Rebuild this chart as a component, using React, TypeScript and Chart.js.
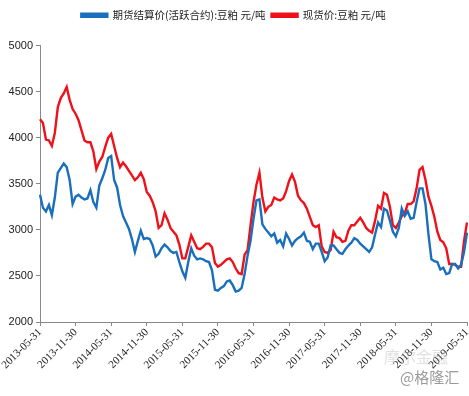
import { useEffect, useRef } from 'react';
import { Chart, registerables } from 'chart.js';

Chart.register(...registerables);

const seriesNames = ['期货结算价(活跃合约):豆粕 元/吨', '现货价:豆粕 元/吨'];

const tickLabels = [
  '2013-05-31', '2013-11-30', '2014-05-31', '2014-11-30', '2015-05-31', '2015-11-30',
  '2016-05-31', '2016-11-30', '2017-05-31', '2017-11-30', '2018-05-31', '2018-11-30', '2019-05-31',
];

const yTicks = [2000, 2500, 3000, 3500, 4000, 4500, 5000];

// Futures settlement price (blue), half-monthly readings
const futures = [
  3380, 3240, 3200, 3270, 3160, 3350, 3620, 3670, 3720, 3680, 3540, 3280,
  3360, 3380, 3350, 3330, 3340, 3430, 3300, 3240, 3480, 3560, 3650, 3780,
  3800, 3540, 3460, 3270, 3150, 3080, 3010, 2900, 2760, 2880, 2990, 2900,
  2910, 2900, 2830, 2710, 2740, 2800, 2840, 2810, 2770, 2750, 2760, 2650,
  2550, 2480, 2650, 2800, 2720, 2680, 2690, 2680, 2660, 2650, 2560, 2350,
  2340, 2370, 2390, 2440, 2450, 2400, 2330, 2340, 2370, 2520, 2720, 2880,
  3120, 3320, 3330, 3060, 3010, 2970, 2930, 2960, 2860, 2890, 2820, 2960,
  2900, 2830, 2880, 2910, 2930, 2970, 2880, 2870, 2790, 2850, 2850, 2760,
  2660, 2700, 2830, 2830, 2790, 2750, 2740, 2790, 2830, 2860, 2910, 2890,
  2850, 2820, 2790, 2760, 2810, 2950, 3080, 3030, 3230, 3210, 3100, 2980,
  2930, 3020, 3230, 3150, 3200, 3120, 3130, 3300, 3450, 3450, 3280, 2950,
  2680, 2660, 2650, 2570, 2590, 2520, 2530, 2630, 2630, 2580, 2620, 2760,
  2970,
];

// Spot price (red), half-monthly readings
const spot = [
  4200, 4160, 3980, 3970, 3910, 4050, 4330, 4430, 4480, 4550, 4410, 4310,
  4260, 4190, 4080, 3970, 3950, 3950, 3850, 3660, 3740, 3790, 3900, 4000,
  4040, 3910, 3780, 3680, 3730, 3690, 3640, 3590, 3540, 3570, 3620, 3550,
  3410, 3370, 3300, 3200, 3020, 3050, 3180, 3110, 3020, 2980, 2940, 2840,
  2690, 2690, 2815, 2940, 2870, 2800, 2790, 2815, 2850, 2850, 2810, 2640,
  2600, 2620, 2650, 2680, 2690, 2650, 2580, 2530, 2520, 2730, 2780, 3050,
  3300, 3490, 3620, 3350, 3200, 3250, 3270, 3350, 3330, 3320, 3340, 3420,
  3530, 3600, 3520, 3370, 3320, 3290, 3230, 3140, 3050, 3030, 3050, 2820,
  2760, 2750, 2780, 2980, 2920, 2910, 2870, 2880, 2990, 3050, 3050, 3090,
  3130, 3080, 3020, 2990, 2970, 3100, 3260, 3230, 3400, 3380, 3250, 3050,
  3020, 3080, 3150, 3180, 3280, 3280, 3310, 3450, 3650, 3680, 3540, 3360,
  3260, 3140, 2980, 2890, 2865, 2800, 2630, 2630, 2620, 2600, 2600, 2880,
  3080,
];

function halfMonthDates(count: number): string[] {
  const out: string[] = [];
  let y = 2013;
  let m = 5; // May
  const pad = (n: number) => (n < 10 ? '0' + n : '' + n);
  out.push(`${y}-${pad(m)}-31`);
  while (out.length < count) {
    m += 1;
    if (m > 12) { m = 1; y += 1; }
    out.push(`${y}-${pad(m)}-15`);
    if (out.length >= count) break;
    const last = new Date(y, m, 0).getDate();
    out.push(`${y}-${pad(m)}-${pad(last)}`);
  }
  return out;
}

const categories = halfMonthDates(futures.length);

const legendSpacer = {
  id: 'legendSpacer',
  beforeLayout(chart: any) {
    const lg = chart.legend;
    if (lg && !lg.__patched) {
      const orig = lg.fit;
      lg.fit = function () {
        orig.call(this);
        this.height += 15;
      };
      lg.__patched = true;
    }
  },
};

export default function App() {
  const ref = useRef<HTMLCanvasElement | null>(null);

  useEffect(() => {
    document.body.style.margin = '0';
    if (!ref.current) return;
    const tickSet = new Set(tickLabels);
    const chart = new Chart(ref.current, {
      type: 'line',
      data: {
        labels: categories,
        datasets: [
          {
            label: seriesNames[0],
            data: futures,
            borderColor: '#1a6fbd',
            backgroundColor: '#1a6fbd',
            borderWidth: 2.4,
            pointRadius: 0,
            tension: 0,
          },
          {
            label: seriesNames[1],
            data: spot,
            borderColor: '#f0101a',
            backgroundColor: '#f0101a',
            borderWidth: 2.4,
            pointRadius: 0,
            tension: 0,
          },
        ],
      },
      plugins: [legendSpacer],
      options: {
        animation: false,
        responsive: false,
        maintainAspectRatio: false,
        layout: { padding: { top: 4, right: 2, left: 0, bottom: 0 } },
        plugins: {
          legend: {
            position: 'top',
            labels: {
              boxWidth: 26,
              boxHeight: 3,
              padding: 6,
              color: '#222',
              font: { family: '"Noto Sans CJK SC", sans-serif', size: 10.5 },
            },
          },
          tooltip: { enabled: false },
        },
        scales: {
          x: {
            type: 'category',
            offset: false,
            grid: { display: true, drawOnChartArea: false, drawTicks: true, tickLength: 4, color: '#888' },
            border: { display: true, color: '#888' },
            ticks: {
              autoSkip: false,
              maxRotation: 45,
              minRotation: 45,
              padding: 0,
              color: '#222',
              font: { family: '"Liberation Serif", serif', size: 11 },
              callback: (_v: any, idx: number) => (tickSet.has(categories[idx]) ? categories[idx] : null),
            },
            afterFit: (s: any) => { s.height = 74; s.paddingRight = 0; s.paddingLeft = 0; },
          },
          y: {
            min: 2000,
            max: 5000,
            grid: { display: true, drawOnChartArea: false, drawTicks: true, tickLength: 4, color: '#888' },
            border: { display: true, color: '#888' },
            afterBuildTicks: (s: any) => { s.ticks = yTicks.map((v) => ({ value: v })); },
            ticks: {
              color: '#222',
              padding: 3,
              font: { family: '"Liberation Sans", sans-serif', size: 11 },
              callback: (v: any) => String(v),
            },
            afterFit: (s: any) => { s.width = 40; },
          },
        },
      },
    });
    return () => chart.destroy();
  }, []);

  return (
    <div style={{ position: 'relative', width: 469, height: 396, background: '#fff' }}>
      <canvas ref={ref} width={469} height={396} />
      <div style={{ position: 'absolute', left: 384, top: 344, color: 'rgba(170,170,170,0.35)', fontSize: 16, fontFamily: '"Noto Sans CJK SC", sans-serif' }}>摩尔金融</div>
      <div style={{ position: 'absolute', left: 400, top: 366, color: '#9a9a9a', fontSize: 15, fontFamily: '"Noto Sans CJK SC", sans-serif' }}>@格隆汇</div>
    </div>
  );
}
